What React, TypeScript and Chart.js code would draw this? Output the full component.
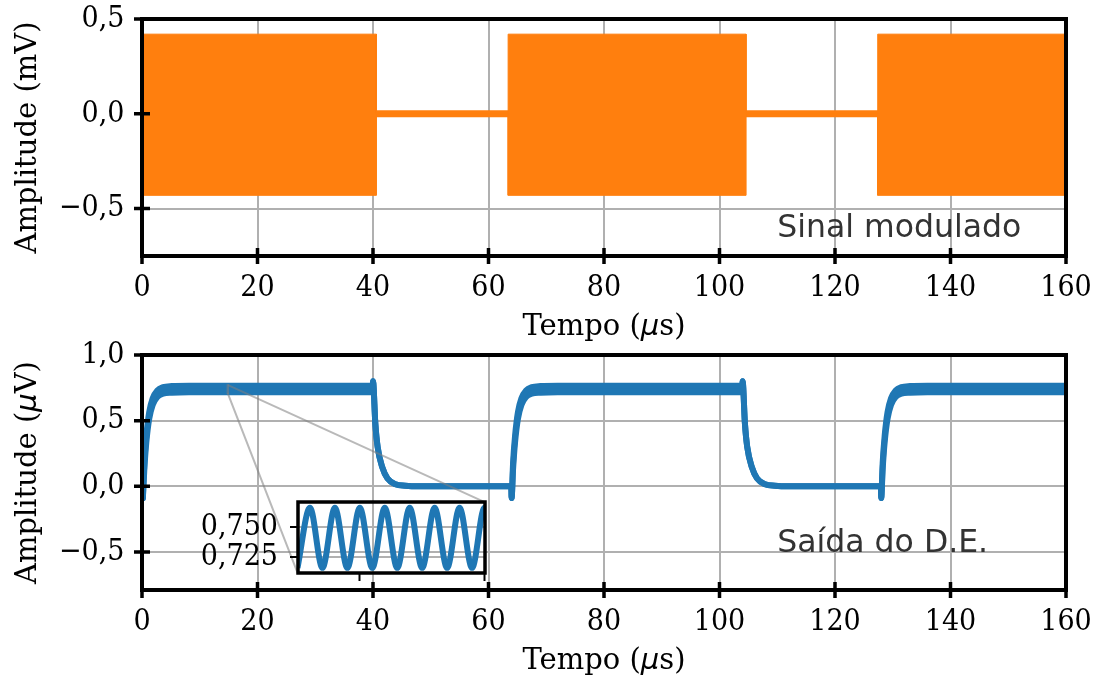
import React, { useEffect, useRef } from 'react';
import { Chart, registerables } from 'chart.js';

Chart.register(...registerables);

// ---------------- data ----------------
const xTicks = [0, 20, 40, 60, 80, 100, 120, 140, 160];
const xTickLabels = ['0', '20', '40', '60', '80', '100', '120', '140', '160'];

const topYTicks = [-0.5, 0, 0.5];
const topYTickLabels = ['\u22120,5', '0,0', '0,5'];
const bottomYTicks = [-0.5, 0, 0.5, 1.0];
const bottomYTickLabels = ['\u22120,5', '0,0', '0,5', '1,0'];

// modulated signal (mV): envelope of the carrier bursts
const modTime = [0, 40.6, 40.6, 63.4, 63.4, 104.6, 104.6, 127.4, 127.4, 160];
const modUpper = [0.42, 0.42, 0, 0, 0.42, 0.42, 0, 0, 0.42, 0.42];
const modLower = [-0.43, -0.43, 0, 0, -0.43, -0.43, 0, 0, -0.43, -0.43];
const modBaseTime = [0, 160];
const modBase = [0, 0];

// detector output (µV): upper and lower ripple envelopes
const outTime = [
  0.15, 0.4, 0.75, 1.25, 1.85, 2.65, 3.65, 5.15, 8.15, 39.95,
  40.0, 40.4, 40.8, 41.6, 42.5, 43.9, 45.6, 48.0, 63.95,
  64.0, 64.25, 64.6, 65.1, 65.7, 66.5, 67.5, 69.0, 72.0, 103.95,
  104.0, 104.4, 104.8, 105.6, 106.5, 107.9, 109.6, 112.0, 127.95,
  128.0, 128.25, 128.6, 129.1, 129.7, 130.5, 131.5, 133.0, 136.0, 160.0,
];
const outUpper = [
  -0.09, 0.175, 0.385, 0.565, 0.67, 0.73, 0.755, 0.763, 0.766, 0.766,
  0.80, 0.48, 0.30, 0.145, 0.06, 0.015, 0.004, 0.0, 0.0,
  -0.09, 0.175, 0.385, 0.565, 0.67, 0.73, 0.755, 0.763, 0.766, 0.766,
  0.80, 0.48, 0.30, 0.145, 0.06, 0.015, 0.004, 0.0, 0.0,
  -0.09, 0.175, 0.385, 0.565, 0.67, 0.73, 0.755, 0.763, 0.766, 0.766,
];
const outLower = [
  -0.09, 0.125, 0.335, 0.515, 0.62, 0.68, 0.705, 0.713, 0.717, 0.717,
  0.80, 0.48, 0.30, 0.145, 0.06, 0.015, 0.004, 0.0, 0.0,
  -0.09, 0.125, 0.335, 0.515, 0.62, 0.68, 0.705, 0.713, 0.717, 0.717,
  0.80, 0.48, 0.30, 0.145, 0.06, 0.015, 0.004, 0.0, 0.0,
  -0.09, 0.125, 0.335, 0.515, 0.62, 0.68, 0.705, 0.713, 0.717, 0.717,
];

// inset (zoom on the ripple)
const insetTime = [
  14.825, 14.83, 14.835, 14.84, 14.845, 14.85, 14.855, 14.86, 14.865,
  14.87, 14.875, 14.88, 14.885, 14.89, 14.895, 14.9, 14.905,
];
const insetValue = [
  0.716, 0.766, 0.716, 0.766, 0.716, 0.766, 0.716, 0.766, 0.716,
  0.766, 0.716, 0.766, 0.716, 0.766, 0.716, 0.766, 0.716,
];
const insetXRange = [14.8252, 14.9002];
const insetYRange = [0.7117, 0.7708];
const insetXTicks = [14.85, 14.9];
const insetYTicks = [0.725, 0.75];
const insetYTickLabels = ['0,725', '0,750'];

// inset placement inside the lower axes (data coordinates of lower axes)
const insetBox = { x0: 26.94, x1: 59.34, y0: -0.66, y1: -0.12 };

// ---------------- style ----------------
const SERIF = '"DejaVu Serif", serif';
const SERIF_COND = '"DejaVu Serif Condensed", "DejaVu Serif", serif';
const SANS = '"DejaVu Sans", sans-serif';
const ORANGE = '#ff7f0e';
const BLUE = '#1f77b4';
const GRID = '#b0b0b0';
const TICK_FONT = { family: SERIF_COND, size: 30 };

const TOP_CANVAS = { top: 0, height: 350 };
const BOT_CANVAS = { top: 330, height: 350 };
const INSET_PAD = { left: 100, top: 40, right: 30, bottom: 35 };

type Part = { text: string; font: string };

const serifTitle = (t: string): Part => ({ text: t, font: `29px ${SERIF}` });
const muPart: Part = { text: '\u03bc', font: `italic 29px ${SANS}` };

function pts(xs: number[], ys: number[]) {
  return xs.map((x, i) => ({ x, y: ys[i] }));
}

function pickTicks(values: number[]) {
  return (axis: any) => {
    axis.ticks = values.map((v) => ({ value: v }));
  };
}
function labelsFor(labels: string[]) {
  return (_v: any, i: number) => labels[i];
}

function drawParts(ctx: CanvasRenderingContext2D, parts: Part[], cx: number, baseY: number) {
  let total = 0;
  const widths = parts.map((p) => {
    ctx.font = p.font;
    const w = ctx.measureText(p.text).width;
    total += w;
    return w;
  });
  let x = cx - total / 2;
  ctx.textAlign = 'left';
  ctx.textBaseline = 'alphabetic';
  parts.forEach((p, i) => {
    ctx.font = p.font;
    ctx.fillText(p.text, x, baseY);
    x += widths[i];
  });
}

function framePlugin(cfg: { xTitle: Part[]; yTitle: Part[]; note: string; noteX: number; noteY: number }) {
  return {
    id: 'frame',
    afterDraw(chart: any) {
      const { ctx, chartArea: a, scales } = chart;
      const x = scales.x;
      const y = scales.y;
      ctx.save();
      // annotation
      ctx.fillStyle = '#333333';
      ctx.font = `31.5px ${SANS}`;
      ctx.textAlign = 'left';
      ctx.textBaseline = 'alphabetic';
      ctx.fillText(cfg.note, x.getPixelForValue(cfg.noteX), y.getPixelForValue(cfg.noteY));
      // spines
      ctx.strokeStyle = '#000';
      ctx.lineWidth = 4;
      ctx.strokeRect(a.left, a.top, a.right - a.left, a.bottom - a.top);
      // in-out ticks
      ctx.lineWidth = 3.5;
      ctx.beginPath();
      x.ticks.forEach((t: any) => {
        const p = x.getPixelForValue(t.value);
        ctx.moveTo(p, a.bottom - 8);
        ctx.lineTo(p, a.bottom + 8);
      });
      y.ticks.forEach((t: any) => {
        const p = y.getPixelForValue(t.value);
        ctx.moveTo(a.left - 8, p);
        ctx.lineTo(a.left + 8, p);
      });
      ctx.stroke();
      // titles
      ctx.fillStyle = '#000';
      drawParts(ctx, cfg.xTitle, (a.left + a.right) / 2, a.bottom + 79);
      ctx.translate(36, (a.top + a.bottom) / 2);
      ctx.rotate(-Math.PI / 2);
      drawParts(ctx, cfg.yTitle, 0, 0);
      ctx.restore();
    },
  };
}

const connectorPlugin = {
  id: 'connector',
  afterDatasetsDraw(chart: any) {
    const { ctx, scales } = chart;
    const x = scales.x;
    const y = scales.y;
    const rx0 = x.getPixelForValue(insetXRange[0]);
    const rx1 = x.getPixelForValue(insetXRange[1]);
    const ry0 = y.getPixelForValue(insetYRange[0]);
    const ry1 = y.getPixelForValue(insetYRange[1]);
    const bx0 = x.getPixelForValue(insetBox.x0);
    const bx1 = x.getPixelForValue(insetBox.x1);
    const by0 = y.getPixelForValue(insetBox.y0);
    const by1 = y.getPixelForValue(insetBox.y1);
    ctx.save();
    ctx.strokeStyle = 'rgba(128,128,128,0.55)';
    ctx.lineWidth = 2;
    ctx.strokeRect(rx0, ry1, rx1 - rx0, ry0 - ry1);
    ctx.beginPath();
    ctx.moveTo(rx1, ry1);
    ctx.lineTo(bx1, by1);
    ctx.moveTo(rx0, ry0);
    ctx.lineTo(bx0, by0);
    ctx.stroke();
    ctx.restore();
  },
};

function mainScales(yMin: number, yMax: number, yTicks: number[], yLabels: string[]) {
  return {
    x: {
      type: 'linear',
      min: 0,
      max: 160,
      afterBuildTicks: pickTicks(xTicks),
      ticks: { callback: labelsFor(xTickLabels), font: TICK_FONT, color: '#000', padding: 14, maxRotation: 0, autoSkip: false },
      grid: { color: GRID, lineWidth: 2, drawTicks: false },
      border: { display: false },
      afterFit: (s: any) => {
        s.height = 90;
        s.paddingLeft = 0;
        s.paddingRight = 0;
      },
    },
    y: {
      type: 'linear',
      min: yMin,
      max: yMax,
      afterBuildTicks: pickTicks(yTicks),
      ticks: { callback: labelsFor(yLabels), font: TICK_FONT, color: '#000', padding: 17.5, autoSkip: false },
      grid: { color: GRID, lineWidth: 2, drawTicks: false },
      border: { display: false },
      afterFit: (s: any) => {
        s.width = 142;
        s.paddingTop = 0;
        s.paddingBottom = 0;
      },
    },
  };
}

const commonOpts = {
  animation: false,
  responsive: false,
  events: [],
  plugins: { legend: { display: false }, tooltip: { enabled: false } },
};

export default function App() {
  const topRef = useRef<HTMLCanvasElement>(null);
  const botRef = useRef<HTMLCanvasElement>(null);
  const insRef = useRef<HTMLCanvasElement>(null);

  useEffect(() => {
    document.body.style.margin = '0';

    const topChart = new Chart(topRef.current as HTMLCanvasElement, {
      type: 'line',
      data: {
        datasets: [
          {
            data: pts(modTime, modUpper),
            borderColor: ORANGE,
            borderWidth: 1,
            backgroundColor: ORANGE,
            fill: '+1',
            pointRadius: 0,
          },
          {
            data: pts(modTime, modLower),
            borderColor: ORANGE,
            borderWidth: 1,
            pointRadius: 0,
            fill: false,
          },
          {
            data: pts(modBaseTime, modBase),
            borderColor: ORANGE,
            borderWidth: 7,
            pointRadius: 0,
            fill: false,
          },
        ],
      },
      options: {
        ...commonOpts,
        layout: { padding: { left: 0, top: 19, right: 36, bottom: 4 } },
        scales: mainScales(-0.75, 0.5, topYTicks, topYTickLabels),
      } as any,
      plugins: [
        framePlugin({
          xTitle: [serifTitle('Tempo ('), muPart, serifTitle('s)')],
          yTitle: [serifTitle('Amplitude (mV)')],
          note: 'Sinal modulado',
          noteX: 110,
          noteY: -0.65,
        }),
      ],
    } as any);

    const botChart = new Chart(botRef.current as HTMLCanvasElement, {
      type: 'line',
      data: {
        datasets: [
          {
            data: pts(outTime, outUpper),
            borderColor: BLUE,
            borderWidth: 6,
            backgroundColor: BLUE,
            fill: '+1',
            pointRadius: 0,
            cubicInterpolationMode: 'monotone',
            borderCapStyle: 'round',
            borderJoinStyle: 'round',
          },
          {
            data: pts(outTime, outLower),
            borderColor: BLUE,
            borderWidth: 6,
            fill: false,
            pointRadius: 0,
            cubicInterpolationMode: 'monotone',
            borderCapStyle: 'round',
            borderJoinStyle: 'round',
          },
        ],
      },
      options: {
        ...commonOpts,
        layout: { padding: { left: 0, top: 25, right: 36, bottom: 0 } },
        scales: mainScales(-0.79, 1.0, bottomYTicks, bottomYTickLabels),
      } as any,
      plugins: [
        connectorPlugin,
        framePlugin({
          xTitle: [serifTitle('Tempo ('), muPart, serifTitle('s)')],
          yTitle: [serifTitle('Amplitude ('), muPart, serifTitle('V)')],
          note: 'Sa\u00edda do D.E.',
          noteX: 110,
          noteY: -0.5,
        }),
      ],
    } as any);

    // place inset
    const sx: any = botChart.scales.x;
    const sy: any = botChart.scales.y;
    const bx0 = sx.getPixelForValue(insetBox.x0);
    const bx1 = sx.getPixelForValue(insetBox.x1);
    const byTop = sy.getPixelForValue(insetBox.y1);
    const byBot = sy.getPixelForValue(insetBox.y0);
    const w = Math.round(bx1 - bx0);
    const h = Math.round(byBot - byTop);
    const c = insRef.current as HTMLCanvasElement;
    c.width = INSET_PAD.left + w + INSET_PAD.right;
    c.height = INSET_PAD.top + h + INSET_PAD.bottom;
    c.style.width = c.width + 'px';
    c.style.height = c.height + 'px';

    const insChart = new Chart(c, {
      type: 'line',
      data: {
        datasets: [
          {
            data: pts(insetTime, insetValue),
            borderColor: BLUE,
            borderWidth: 6,
            pointRadius: 0,
            fill: false,
            cubicInterpolationMode: 'monotone',
            clip: 0,
          },
        ],
      },
      options: {
        ...commonOpts,
        layout: { padding: { left: 0, top: INSET_PAD.top, right: INSET_PAD.right, bottom: INSET_PAD.bottom - 30 } },
        scales: {
          x: {
            type: 'linear',
            min: insetXRange[0],
            max: insetXRange[1],
            afterBuildTicks: pickTicks(insetXTicks),
            ticks: { callback: () => '', font: TICK_FONT, autoSkip: false, maxRotation: 0 },
            grid: { drawOnChartArea: false, drawTicks: true, tickLength: 8, tickWidth: 2, tickColor: '#000' },
            border: { display: false },
            afterFit: (s: any) => {
              s.height = 30;
              s.paddingLeft = 0;
              s.paddingRight = 0;
            },
          },
          y: {
            type: 'linear',
            min: insetYRange[0],
            max: insetYRange[1],
            afterBuildTicks: pickTicks(insetYTicks),
            ticks: { callback: labelsFor(insetYTickLabels), font: TICK_FONT, color: '#000', padding: 12, autoSkip: false },
            grid: { color: GRID, lineWidth: 2, drawTicks: true, tickLength: 8, tickWidth: 2, tickColor: '#000' },
            border: { display: false },
            afterFit: (s: any) => {
              s.width = INSET_PAD.left;
              s.paddingTop = 0;
              s.paddingBottom = 0;
            },
          },
        },
      } as any,
      plugins: [
        {
          id: 'insetFrame',
          afterDraw(chart: any) {
            const { ctx, chartArea: a } = chart;
            ctx.save();
            ctx.strokeStyle = '#000';
            ctx.lineWidth = 3.5;
            ctx.strokeRect(a.left, a.top, a.right - a.left, a.bottom - a.top);
            ctx.restore();
          },
        },
      ],
    } as any);

    const ca = insChart.chartArea;
    c.style.left = bx0 - ca.left + 'px';
    c.style.top = BOT_CANVAS.top + byTop - ca.top + 'px';

    return () => {
      topChart.destroy();
      botChart.destroy();
      insChart.destroy();
    };
  }, []);

  return (
    <div style={{ position: 'absolute', left: 0, top: 0, width: 1102, height: 680, background: '#fff', overflow: 'hidden' }}>
      <canvas
        ref={topRef}
        width={1102}
        height={TOP_CANVAS.height}
        style={{ position: 'absolute', left: 0, top: TOP_CANVAS.top, display: 'block' }}
      />
      <canvas
        ref={botRef}
        width={1102}
        height={BOT_CANVAS.height}
        style={{ position: 'absolute', left: 0, top: BOT_CANVAS.top, display: 'block' }}
      />
      <canvas ref={insRef} style={{ position: 'absolute', left: 0, top: 0, display: 'block' }} />
    </div>
  );
}
